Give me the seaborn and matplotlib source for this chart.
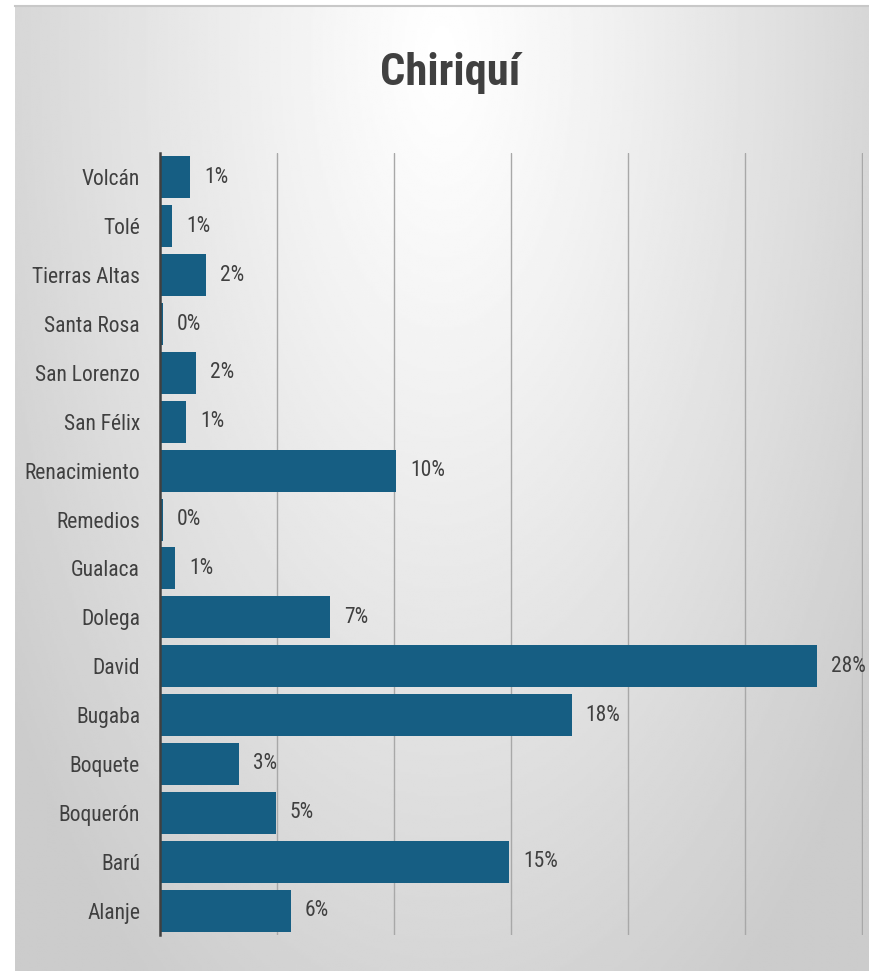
import numpy as np
import pandas as pd
import matplotlib
matplotlib.use("Agg")
import matplotlib.pyplot as plt
import seaborn as sns
from matplotlib import font_manager as fm

categories = ["Volcán", "Tolé", "Tierras Altas", "Santa Rosa", "San Lorenzo", "San Félix",
              "Renacimiento", "Remedios", "Gualaca", "Dolega", "David", "Bugaba",
              "Boquete", "Boquerón", "Barú", "Alanje"]
values = [1.3, 0.55, 2.0, 0.15, 1.55, 1.15, 10.1, 0.15, 0.66, 7.3, 28.1, 17.6,
          3.4, 4.96, 14.95, 5.6]
title = "Chiriquí"

sns.set_theme(style="white")
names = {f.name for f in fm.fontManager.ttflist}
cands = ["Liberation Sans Narrow", "DejaVu Sans Condensed", "Roboto Condensed",
         "Open Sans Condensed", "Noto Sans Condensed"]
narrow = next((c for c in cands if c in names), None)
if narrow is None:
    narrow = "DejaVu Sans"
    stretch = "condensed"
else:
    stretch = "normal"
plt.rcParams["font.family"] = [narrow, "DejaVu Sans"]
plt.rcParams["font.stretch"] = stretch
tick_fs = 15.5 if narrow != "DejaVu Sans" else 12.0

W, H = 869, 971
fig = plt.figure(figsize=(W / 100, H / 100), dpi=100)
fig.patch.set_facecolor("white")

# background gradient panel
bg = fig.add_axes([15 / W, 0, 1 - 15 / W, 1 - 6 / H])
yy, xx = np.mgrid[0:400, 0:400]
cx, cy = 0.5, 0.05
dx = (xx / 399 - cx) / 0.62
dy = (yy / 399 - cy) / 1.15
d = np.sqrt(dx ** 2 + dy ** 2)
val = 1.0 - 0.20 * np.clip(d, 0, 1) ** 1.1
bg.imshow(val, cmap="gray", vmin=0, vmax=1, aspect="auto", extent=[0, 1, 1, 0],
          interpolation="bilinear")
bg.set_xticks([]); bg.set_yticks([])
for s in ["left", "right", "bottom"]:
    bg.spines[s].set_visible(False)
bg.spines["top"].set_color("#c8c8c8")
bg.spines["top"].set_linewidth(1.5)

ax = fig.add_axes([159.5 / W, 1 - 935 / H, (863 - 159.5) / W, (935 - 153) / H])
ax.patch.set_alpha(0)
df = pd.DataFrame({"cat": categories, "val": values})
sns.barplot(data=df, x="val", y="cat", orient="h", color="#165E83", saturation=1,
            width=0.86, ax=ax, zorder=3, linewidth=0)
ax.set_xlim(0, 30.05)
ax.set_xticks([5, 10, 15, 20, 25, 30])
ax.xaxis.grid(True, color="#a8a8a8", linewidth=1.0, zorder=0)
ax.set_axisbelow(True)
ax.tick_params(axis="x", length=0, labelbottom=False)
ax.tick_params(axis="y", length=0, pad=14, labelsize=tick_fs, labelcolor="#404040")
ax.set_xlabel(""); ax.set_ylabel("")
for s in ["top", "right", "bottom"]:
    ax.spines[s].set_visible(False)
ax.spines["left"].set_color("#404040")
ax.spines["left"].set_linewidth(1.8)
ax.spines["left"].set_zorder(5)

labels = [f"{v:.0f}%" for v in values]
ax.bar_label(ax.containers[0], labels=labels, padding=10, fontsize=tick_fs, color="#404040")

fig.text(450 / W, 1 - 73 / H, title, ha="center", va="center",
         fontsize=32 if narrow != "DejaVu Sans" else 27,
         fontweight="bold", color="#404040")

fig.savefig("out.png", dpi=100)
